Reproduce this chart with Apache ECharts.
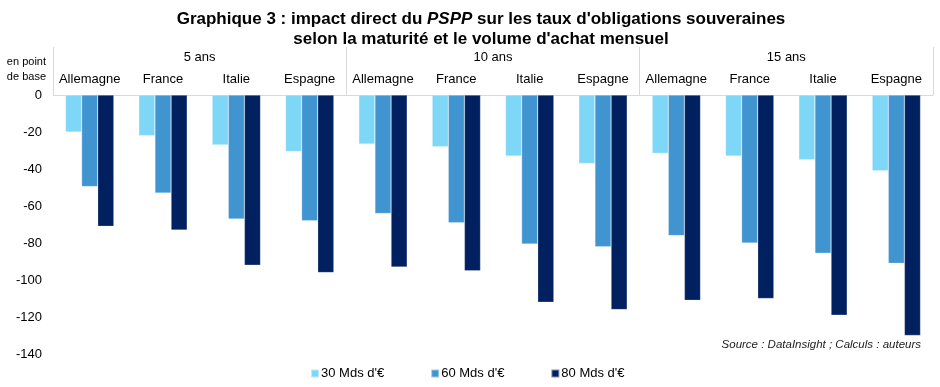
<!DOCTYPE html>
<html><head><meta charset="utf-8">
<script src="https://cdn.jsdelivr.net/npm/echarts@6/dist/echarts.min.js"></script>
<style>html,body{margin:0;padding:0;background:#fff}#c{width:940px;height:387px}</style>
</head><body><div id="c"></div>
<script>
const maturities = ['5 ans', '10 ans', '15 ans'];
const countries = ['Allemagne', 'France', 'Italie', 'Espagne'];
const seriesNames = ["30 Mds d'€", "60 Mds d'€", "80 Mds d'€"];
// order: 5 ans (All, Fra, Ita, Esp), 10 ans (...), 15 ans (...)
const s30 = [-20, -22, -27, -30.5, -26.5, -28, -33, -37, -31.5, -33, -35, -41];
const s60 = [-49.5, -53, -67, -68, -64, -69, -80.5, -82, -76, -80, -85.5, -91];
const s80 = [-71, -73, -92, -96, -93, -95, -112, -116, -111, -110, -119, -130];
const yTicks = { min: -140, max: 0, interval: 20 };

const cats = [];
maturities.forEach(() => countries.forEach(c => cats.push(c)));
const colors = ['#7fd7f7', '#4095d1', '#002060'];
const font = 'Liberation Sans, Arial, sans-serif';
const chart = echarts.init(document.getElementById('c'));
const vals = [s30, s60, s80];
chart.setOption({
  animation: false,
  title: {
    text: 'Graphique 3 : impact direct du {i|PSPP} sur les taux d\'obligations souveraines\nselon la maturité et le volume d\'achat mensuel',
    left: 476, top: 4, textAlign: 'center',
    textStyle: {
      fontFamily: font,
      fontWeight: 'bold', fontSize: 17, color: '#000', lineHeight: 20,
      rich: { i: { fontStyle: 'italic', fontWeight: 'bold', fontSize: 17, fontFamily: font } }
    }
  },
  grid: { left: 53, right: 7, top: 95, bottom: 33 },
  legend: {
    bottom: 2, left: 305, itemWidth: 8, itemHeight: 8, itemGap: 46,
    icon: 'rect',
    textStyle: { fontFamily: font, fontSize: 13, color: '#000', padding: [0, 0, 0, -3] },
    data: seriesNames
  },
  xAxis: [
    { type: 'category', data: cats, position: 'top',
      axisLine: { show: true, lineStyle: { color: '#d9d9d9', width: 1 } },
      axisTick: { show: false },
      axisLabel: { interval: 0, margin: 9, fontFamily: font, fontSize: 13, color: '#000' } },
    { type: 'category', data: maturities, position: 'top', gridIndex: 0,
      axisLine: { show: false },
      axisTick: { show: true, length: 48, interval: 0, lineStyle: { color: '#d9d9d9' } },
      axisLabel: { interval: 0, margin: 31, fontFamily: font, fontSize: 13, color: '#000' } }
  ],
  yAxis: {
    type: 'value', min: yTicks.min, max: yTicks.max, interval: yTicks.interval,
    axisLine: { show: false }, axisTick: { show: false }, splitLine: { show: false },
    axisLabel: { margin: 11, fontFamily: font, fontSize: 13, color: '#000' }
  },
  graphic: [
    { type: 'text', right: 894, top: 54,
      style: { text: 'en point\nde base', fontFamily: font, fontSize: 11, fill: '#000', align: 'right', lineHeight: 15 } },
    { type: 'text', right: 19, top: 339,
      style: { text: 'Source : DataInsight ; Calculs : auteurs', fontFamily: font, fontSize: 11.5, fontStyle: 'italic', fill: '#222' } }
  ],
  series: seriesNames.map((n, i) => ({
    name: n, type: 'bar', xAxisIndex: 0, data: vals[i],
    barWidth: '22%', barGap: '0%',
    itemStyle: { color: colors[i], borderColor: 'rgba(255,255,255,0.5)', borderWidth: 0.5 }
  }))
});
</script></body></html>
